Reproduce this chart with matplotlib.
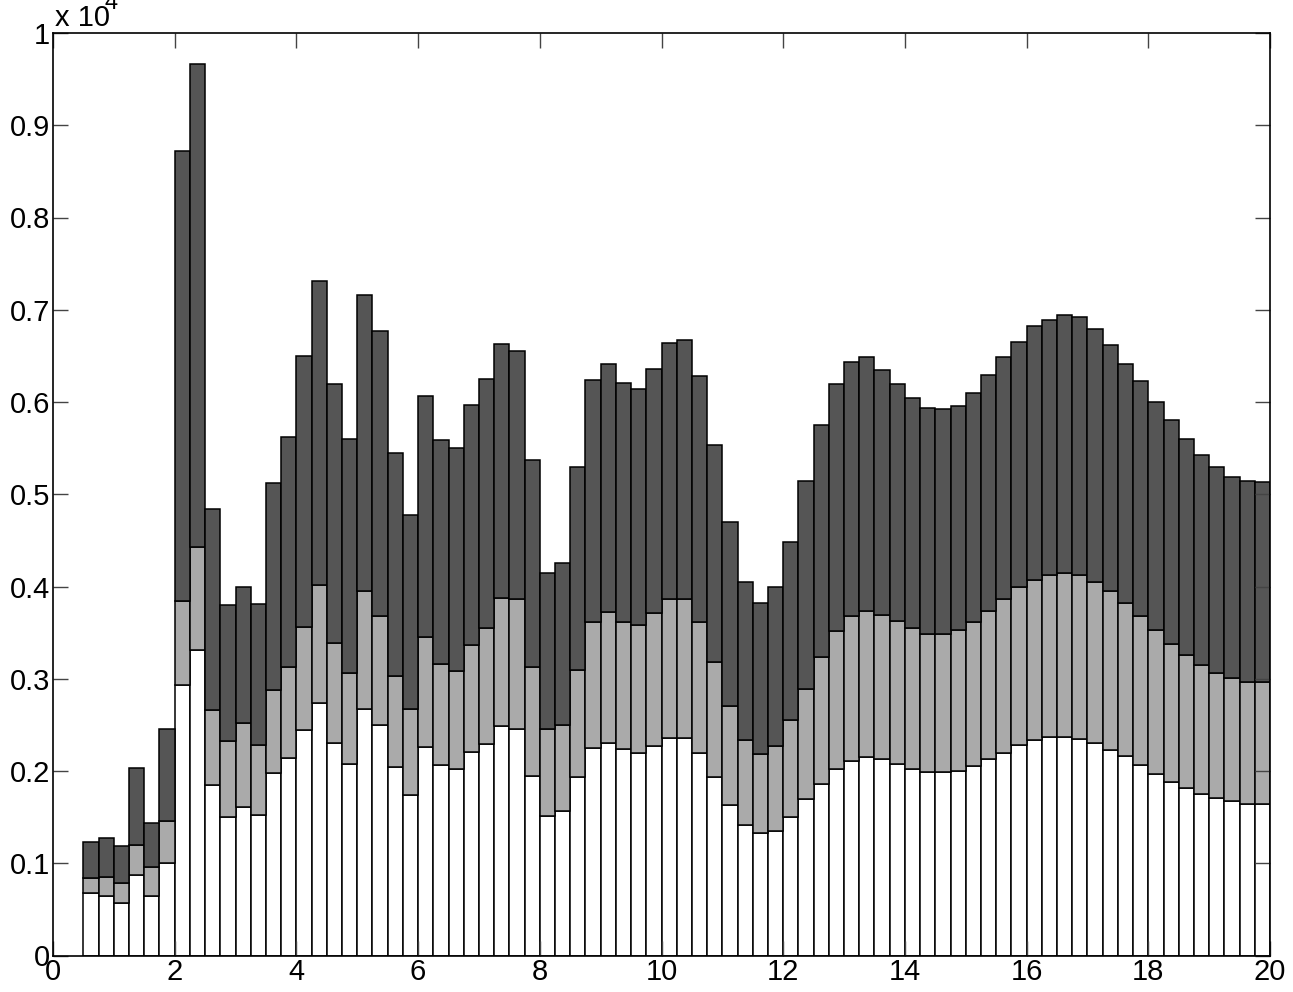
import numpy as np
import matplotlib
matplotlib.use("Agg")
import matplotlib.pyplot as plt
from matplotlib.ticker import FuncFormatter, MultipleLocator

plt.rcParams['font.family'] = ['Liberation Sans', 'DejaVu Sans']

# bar centres (bins of width 0.25 from 0.5 to 20)
bin_centers = np.arange(0.625, 20.0, 0.25)
bin_width = 0.25

# cumulative levels (raw units; axis shows x 10^4)
level_white = [680, 650, 570, 870, 640, 1000, 2930, 3310, 1850, 1500,
               1610, 1520, 1980, 2140, 2440, 2740, 2300, 2080, 2670, 2500,
               2040, 1740, 2260, 2060, 2020, 2210, 2290, 2490, 2450, 1950,
               1510, 1570, 1930, 2250, 2300, 2240, 2200, 2270, 2360, 2360,
               2200, 1930, 1630, 1420, 1330, 1350, 1500, 1700, 1860, 2020,
               2110, 2150, 2130, 2080, 2020, 1990, 1990, 2000, 2050, 2130,
               2200, 2280, 2340, 2370, 2370, 2350, 2300, 2230, 2160, 2070,
               1970, 1880, 1820, 1750, 1710, 1670, 1640, 1640]
level_gray = [840, 850, 790, 1200, 960, 1460, 3840, 4430, 2660, 2320,
              2520, 2280, 2880, 3130, 3560, 4020, 3390, 3060, 3950, 3680,
              3030, 2670, 3450, 3160, 3080, 3370, 3550, 3880, 3860, 3130,
              2450, 2500, 3090, 3610, 3720, 3620, 3580, 3710, 3860, 3860,
              3620, 3180, 2700, 2340, 2180, 2270, 2550, 2890, 3240, 3520,
              3680, 3730, 3690, 3630, 3550, 3490, 3490, 3530, 3620, 3730,
              3860, 3990, 4070, 4130, 4150, 4120, 4050, 3950, 3820, 3680,
              3530, 3380, 3260, 3150, 3060, 3010, 2970, 2970]
level_dark = [1230, 1270, 1190, 2030, 1440, 2450, 8720, 9660, 4840, 3800,
              4000, 3810, 5120, 5620, 6500, 7310, 6200, 5600, 7160, 6770,
              5450, 4770, 6070, 5590, 5500, 5970, 6250, 6630, 6550, 5370,
              4150, 4250, 5300, 6240, 6410, 6210, 6140, 6360, 6640, 6670,
              6280, 5530, 4700, 4050, 3820, 4000, 4480, 5140, 5750, 6200,
              6430, 6490, 6350, 6200, 6040, 5930, 5920, 5960, 6100, 6290,
              6490, 6650, 6820, 6890, 6940, 6920, 6790, 6620, 6410, 6230,
              6000, 5800, 5600, 5430, 5290, 5190, 5140, 5130]

seg_white = np.array(level_white, dtype=float)
seg_gray = np.array(level_gray, dtype=float) - seg_white
seg_dark = np.array(level_dark, dtype=float) - np.array(level_gray, dtype=float)

W, H = 1293, 992
fig = plt.figure(figsize=(W / 100, H / 100), dpi=100)
ax = fig.add_axes([53 / W, (H - 955.5) / H, (1270 - 53) / W, (955.5 - 33) / H])

edge = dict(edgecolor='black', linewidth=1.1)
ax.bar(bin_centers, seg_white, width=bin_width, color='white', **edge)
ax.bar(bin_centers, seg_gray, width=bin_width, bottom=seg_white,
       color='#aaaaaa', **edge)
ax.bar(bin_centers, seg_dark, width=bin_width, bottom=seg_white + seg_gray,
       color='#555555', **edge)

ax.set_xlim(0, 20)
ax.set_ylim(0, 10000)
ax.xaxis.set_major_locator(MultipleLocator(2))
ax.yaxis.set_major_locator(MultipleLocator(1000))
ax.yaxis.set_major_formatter(FuncFormatter(lambda v, p: '%g' % round(v / 1e4, 3)))
ax.xaxis.set_major_formatter(FuncFormatter(lambda v, p: '%g' % v))
ax.tick_params(direction='in', length=11, width=1, color='#444444',
               top=True, right=True, labelsize=21, pad=2)
for s in ax.spines.values():
    s.set_linewidth(1.2)
    s.set_color('black')

fig.text(55 / W, 1 - 26 / H, 'x 10', fontsize=21, ha='left', va='baseline')
fig.text(104 / W, 1 - 3 / H, '4', fontsize=17, ha='left', va='center')

fig.savefig('out.png', dpi=100)
